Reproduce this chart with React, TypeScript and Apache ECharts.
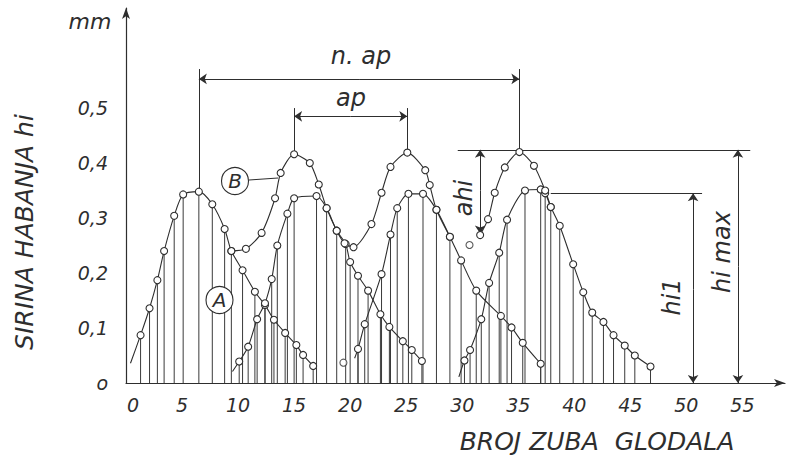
import React, { useEffect, useRef } from 'react';
import * as echarts from 'echarts';

// ---- data (tooth number, wear width in mm) ----
const A1_START = [0.4, 0.036];
const A1 = [[1.3, 0.087], [2.1, 0.136], [2.8, 0.187], [3.4, 0.24], [4.3, 0.304], [5.1, 0.343], [6.5, 0.348], [7.7, 0.325], [8.8, 0.28], [9.4, 0.24], [10.4, 0.205], [11.5, 0.166], [12.4, 0.142], [13.2, 0.115], [14.2, 0.091], [15.2, 0.069], [15.8, 0.051], [16.7, 0.031]];
const A2_START = [9.5, 0.021];
const A2 = [[10.1, 0.039], [10.9, 0.066], [11.7, 0.116], [12.4, 0.145], [13.0, 0.189], [13.5, 0.25], [14.4, 0.308], [15.0, 0.336], [17.0, 0.34], [17.9, 0.318], [18.8, 0.277], [19.6, 0.253], [20.0, 0.22], [20.7, 0.195], [21.6, 0.168], [22.7, 0.125], [23.5, 0.102], [24.7, 0.076], [25.5, 0.06], [26.4, 0.04]];
const A3_START = [20.4, 0.045];
const A3 = [[20.7, 0.062], [21.3, 0.107], [22.8, 0.198], [23.6, 0.27], [24.2, 0.318], [25.2, 0.344], [26.5, 0.344], [27.7, 0.315], [28.9, 0.266], [29.9, 0.223], [31.25, 0.168], [33.45, 0.122], [34.4, 0.101], [35.4, 0.073], [37.0, 0.035]];
const A4_START = [29.7, 0.011];
const A4 = [[30.2, 0.041], [30.7, 0.06], [31.7, 0.116], [32.4, 0.182], [33.3, 0.237], [34.0, 0.297], [35.6, 0.35], [37.0, 0.352], [37.4, 0.345], [37.9, 0.32], [38.7, 0.286], [39.9, 0.216], [40.8, 0.165], [41.6, 0.128], [42.6, 0.111], [43.5, 0.087], [44.5, 0.068], [45.4, 0.05], [46.8, 0.03]];
const B1 = [[9.4, 0.24], [10.7, 0.244], [12.1, 0.273], [13.3, 0.336], [13.8, 0.382], [15.0, 0.416], [16.4, 0.4], [17.2, 0.361], [17.9, 0.318], [18.8, 0.277], [19.5, 0.254], [20.3, 0.247], [21.9, 0.289], [22.8, 0.346], [23.6, 0.393], [25.1, 0.419], [26.7, 0.387], [27.1, 0.36], [27.7, 0.315], [28.9, 0.266]];
const B2 = [[31.6, 0.269], [32.3, 0.298], [32.9, 0.346], [33.8, 0.392], [35.1, 0.42], [36.4, 0.395], [37.4, 0.35], [37.9, 0.32]];
const LOOSE_POINTS = [[19.4, 0.037], [30.65, 0.251]];

const X_TICKS = [0, 5, 10, 15, 20, 25, 30, 35, 40, 45, 50, 55];
const Y_TICKS = [0, 0.1, 0.2, 0.3, 0.4, 0.5];

// dimension annotations (data units)
const DIM_PLAIN = [
  [[6.5, 0.571], [6.5, 0.348]],
  [[35.1, 0.571], [35.1, 0.42]],
  [[15.0, 0.5], [15.0, 0.416]],
  [[25.1, 0.5], [25.1, 0.419]],
  [[29.6, 0.424], [55.7, 0.424]],
  [[37.9, 0.345], [51.4, 0.345]],
];
const DIM_ARROWS = [
  [[20.8, 0.553], [6.5, 0.553]],
  [[20.8, 0.553], [35.1, 0.553]],
  [[20.05, 0.485], [15.0, 0.485]],
  [[20.05, 0.485], [25.1, 0.485]],
  [[54.6, 0.212], [54.6, 0.424]],
  [[54.6, 0.212], [54.6, 0.0]],
  [[50.6, 0.17], [50.6, 0.345]],
  [[50.6, 0.17], [50.6, 0.0]],
  [[31.6, 0.35], [31.6, 0.424]],
  [[31.6, 0.35], [31.6, 0.272]],
];

const INK = '#2e2e2e';
const FONT = '"DejaVu Sans", sans-serif';

function curve(name: string, start: number[] | null, pts: number[][]) {
  const data: any[] = [];
  if (start) data.push({ value: start, symbol: 'none' });
  pts.forEach((p) => data.push(p));
  return {
    name,
    type: 'line',
    data,
    smooth: 0.25,
    symbol: 'circle',
    symbolSize: 7,
    showAllSymbol: true,
    lineStyle: { color: INK, width: 1.1 },
    itemStyle: { color: '#ffffff', borderColor: INK, borderWidth: 1.1 },
    z: 4,
    silent: true,
  };
}

export default function App() {
  const ref = useRef<HTMLDivElement>(null);
  useEffect(() => {
    if (!ref.current) return;
    const chart = echarts.init(ref.current, undefined, { renderer: 'svg' });
    const hatch = [...A1, ...A2, ...A3, ...A4];
    const labelStyle = { fontFamily: FONT, fontStyle: 'italic' as const, fontSize: 19, color: INK };
    const txt = (text: string, x: number, y: number, size: number, rot = 0) => ({
      type: 'text',
      x,
      y,
      rotation: rot,
      silent: true,
      style: {
        text,
        fill: INK,
        font: `italic ${size}px ${FONT}`,
        align: 'center',
        verticalAlign: 'middle',
        textAlign: 'center',
        textVerticalAlign: 'middle',
      },
    });
    const option: any = {
      animation: false,
      backgroundColor: '#ffffff',
      grid: { left: 126, right: 4, top: 8, bottom: 72, containLabel: false },
      xAxis: {
        type: 'value',
        min: 0,
        max: 58.8,
        interval: 5,
        splitLine: { show: false },
        axisTick: { show: false },
        axisLine: { lineStyle: { color: INK, width: 1.2 }, symbol: ['none', 'arrow'], symbolSize: [6, 11] },
        axisLabel: {
          ...labelStyle,
          margin: 12,
          formatter: (v: number) => {
            const r = Math.round(v);
            if (Math.abs(v - r) > 1e-6 || X_TICKS.indexOf(r) < 0) return '';
            return r === 0 ? '{z|0}' : String(r);
          },
          rich: { z: { ...labelStyle, padding: [0, 0, 0, 14] } },
        },
      },
      yAxis: {
        type: 'value',
        min: 0,
        max: 0.682,
        interval: 0.1,
        splitLine: { show: false },
        axisTick: { show: false },
        axisLine: { lineStyle: { color: INK, width: 1.2 }, symbol: ['none', 'arrow'], symbolSize: [6, 11] },
        axisLabel: {
          ...labelStyle,
          margin: 18,
          formatter: (v: number) => {
            const hit = Y_TICKS.find((t) => Math.abs(t - v) < 1e-6);
            if (hit === undefined) return '';
            if (hit === 0) return 'o';
            return hit.toFixed(1).replace('.', ',');
          },
        },
      },
      series: [
        {
          name: 'hatch',
          type: 'bar',
          data: hatch,
          barWidth: 1,
          itemStyle: { color: '#3a3a3a' },
          z: 1,
          silent: true,
        },
        {
          name: 'dims',
          type: 'lines',
          coordinateSystem: 'cartesian2d',
          data: DIM_PLAIN.map((c) => ({ coords: c })),
          symbol: ['none', 'none'],
          lineStyle: { color: INK, width: 1, opacity: 1 },
          z: 2,
          silent: true,
        },
        {
          name: 'dimArrows',
          type: 'lines',
          coordinateSystem: 'cartesian2d',
          data: DIM_ARROWS.map((c) => ({ coords: c })),
          symbol: ['none', 'arrow'],
          symbolSize: 8,
          lineStyle: { color: INK, width: 1, opacity: 1 },
          z: 2,
          silent: true,
        },
        curve('A1', A1_START, A1),
        curve('A2', A2_START, A2),
        curve('A3', A3_START, A3),
        curve('A4', A4_START, A4),
        curve('B1', null, B1),
        curve('B2', null, B2),
        {
          name: 'loose',
          type: 'scatter',
          data: LOOSE_POINTS,
          symbol: 'circle',
          symbolSize: 7,
          itemStyle: { color: '#ffffff', borderColor: INK, borderWidth: 1.1 },
          z: 5,
          silent: true,
        },
      ],
      graphic: [
        txt('SIRINA HABANJA hi', 24, 232, 25, Math.PI / 2),
        txt('BROJ ZUBA  GLODALA', 597, 441, 25),
        txt('mm', 90, 21, 22),
        txt('n. ap', 361, 56, 24),
        txt('ap', 351, 98, 24),
        txt('hi max', 722, 252, 24, Math.PI / 2),
        txt('hi1', 672, 297, 24, Math.PI / 2),
        txt('ahi', 464, 198, 24, Math.PI / 2),
        {
          type: 'circle',
          shape: { cx: 235, cy: 181, r: 13.5 },
          style: { fill: '#ffffff', stroke: INK, lineWidth: 1.1 },
          z: 10,
          silent: true,
        },
        {
          type: 'line',
          shape: { x1: 249, y1: 180, x2: 278, y2: 178 },
          style: { stroke: INK, lineWidth: 1 },
          z: 10,
          silent: true,
        },
        { ...txt('B', 235, 181, 20), z: 11 },
        {
          type: 'circle',
          shape: { cx: 219.5, cy: 300, r: 13.5 },
          style: { fill: '#ffffff', stroke: INK, lineWidth: 1.1 },
          z: 10,
          silent: true,
        },
        { ...txt('A', 219.5, 300, 20), z: 11 },
      ],
    };
    chart.setOption(option);
    return () => chart.dispose();
  }, []);
  return (
    <div
      ref={ref}
      style={{ position: 'fixed', left: 0, top: 0, width: 789, height: 455, background: '#fff' }}
    />
  );
}
